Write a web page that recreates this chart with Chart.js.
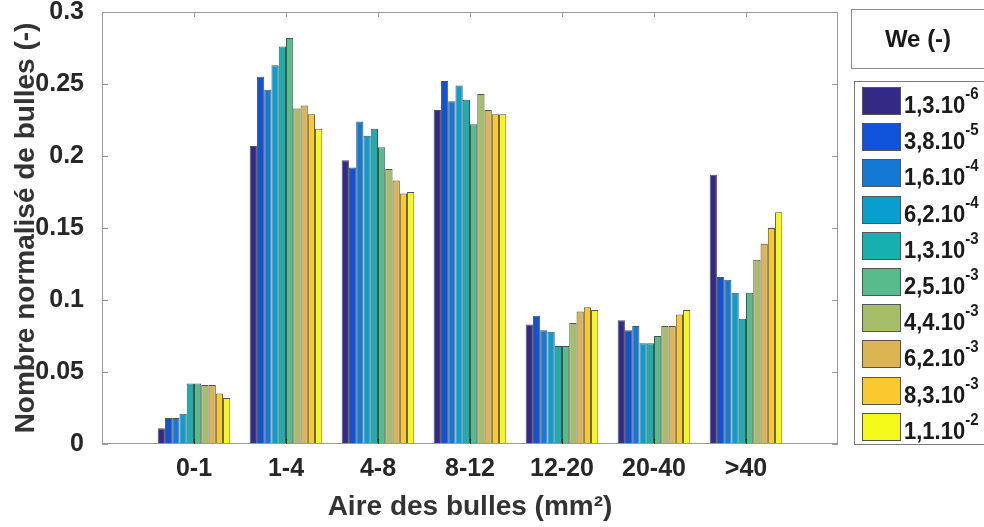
<!DOCTYPE html>
<html>
<head>
<meta charset="utf-8">
<script src="https://cdn.jsdelivr.net/npm/chart.js@4/dist/chart.umd.min.js"></script>
<style>
  body { margin: 0; background: #fff; font-family: "Liberation Sans", Arial, sans-serif; }
  #wrap { position: relative; width: 984px; height: 527px; overflow: hidden; }
  #legendTitle {
    position: absolute; left: 851px; top: 9px; width: 134px; height: 60px;
    border: 1px solid #8a8a8a; box-sizing: border-box;
    font-weight: bold; font-size: 24px; color: #1a1a1a;
    display: flex; align-items: center; justify-content: center;
  }
  #legendBox {
    position: absolute; left: 854px; top: 81px; width: 140px; height: 364px;
    border: 1px solid #7a7a7a; box-sizing: border-box;
  }
  .item { position: absolute; left: 7px; height: 28px; }
  .swatch { position: absolute; left: 0; top: 0; width: 39px; height: 28px; border: 1px solid #555; box-sizing: border-box; }
  .txt { position: absolute; left: 42px; top: 5px; font-weight: bold; font-size: 22px; line-height: 24px; color: #1a1a1a; white-space: nowrap; transform: scaleY(1.12); transform-origin: left top; }
  .txt sup { font-size: 15px; position: relative; top: -7px; vertical-align: top; line-height: 15px; }
</style>
</head>
<body>
<div id="wrap">
  <canvas id="chart" width="984" height="527"></canvas>
  <div id="legendTitle">We (-)</div>
  <div id="legendBox"></div>
</div>
<script>
// Bubble area classes (mm2)
const categories = ['0-1', '1-4', '4-8', '8-12', '12-20', '20-40', '>40'];

// Weber numbers (mantissa.10^exponent)
const weLabels = ['1,3.10^-6', '3,8.10^-5', '1,6.10^-4', '6,2.10^-4', '1,3.10^-3',
                  '2,5.10^-3', '4,4.10^-3', '6,2.10^-3', '8,3.10^-3', '1,1.10^-2'];

const barColors = ['#322a85', '#1053db', '#1479d4', '#0a9dd0', '#17b0b0',
                   '#57bc8c', '#a6bd6a', '#dcb553', '#f9c92d', '#f5f91a'];

// Normalised bubble count, one row per We, one value per class
const we1  = [0.011, 0.207, 0.197, 0.232, 0.083, 0.086, 0.187];
const we2  = [0.018, 0.255, 0.192, 0.252, 0.089, 0.079, 0.116];
const we3  = [0.018, 0.246, 0.224, 0.238, 0.079, 0.082, 0.114];
const we4  = [0.021, 0.263, 0.214, 0.249, 0.078, 0.070, 0.105];
const we5  = [0.042, 0.276, 0.219, 0.239, 0.068, 0.070, 0.087];
const we6  = [0.042, 0.282, 0.206, 0.222, 0.068, 0.075, 0.105];
const we7  = [0.041, 0.233, 0.191, 0.243, 0.084, 0.082, 0.128];
const we8  = [0.041, 0.235, 0.183, 0.232, 0.092, 0.082, 0.139];
const we9  = [0.035, 0.229, 0.174, 0.229, 0.095, 0.090, 0.150];
const we10 = [0.032, 0.219, 0.175, 0.229, 0.093, 0.093, 0.161];
const seriesValues = [we1, we2, we3, we4, we5, we6, we7, we8, we9, we10];

const yTicks = [0, 0.05, 0.1, 0.15, 0.2, 0.25, 0.3];

// empty slot on each side, like the MATLAB axis running from 0 to n+1
const paddedLabels = [''].concat(categories, ['']);

const datasets = seriesValues.map((vals, i) => ({
  label: weLabels[i].replace('^', ''),
  data: [null].concat(vals, [null]),
  backgroundColor: barColors[i],
  borderColor: '#505050',
  borderWidth: 1,
  borderSkipped: false,
  barPercentage: 1.0,
  categoryPercentage: 0.79
}));

// Axis box and inward tick marks
const boxPlugin = {
  id: 'axisBox',
  afterDraw(chart) {
    const { ctx, chartArea: a, scales } = chart;
    ctx.save();
    ctx.strokeStyle = '#9a9a9a';
    ctx.lineWidth = 1;
    ctx.strokeRect(a.left + 0.5, a.top + 0.5, a.right - a.left - 1, a.bottom - a.top - 1);
    ctx.beginPath();
    yTicks.forEach(v => {
      const py = Math.round(scales.y.getPixelForValue(v)) + 0.5;
      ctx.moveTo(a.left, py); ctx.lineTo(a.left + 6, py);
      ctx.moveTo(a.right, py); ctx.lineTo(a.right - 6, py);
    });
    categories.forEach((c, i) => {
      const px = Math.round(scales.x.getPixelForValue(i + 1)) + 0.5;
      ctx.moveTo(px, a.top); ctx.lineTo(px, a.top + 5);
    });
    ctx.stroke();
    ctx.strokeStyle = '#222';
    ctx.beginPath();
    categories.forEach((c, i) => {
      const px = Math.round(scales.x.getPixelForValue(i + 1)) + 0.5;
      ctx.moveTo(px, a.bottom); ctx.lineTo(px, a.bottom - 5);
    });
    ctx.stroke();
    ctx.restore();
  }
};

new Chart(document.getElementById('chart'), {
  type: 'bar',
  data: { labels: paddedLabels, datasets: datasets },
  plugins: [boxPlugin],
  options: {
    responsive: false,
    animation: false,
    devicePixelRatio: 1,
    layout: { padding: { left: 0, right: 146, top: 0, bottom: 0 } },
    plugins: { legend: { display: false }, tooltip: { enabled: false } },
    scales: {
      x: {
        offset: false,
        grid: { display: false },
        border: { display: false },
        ticks: {
          autoSkip: false, maxRotation: 0, padding: 2,
          color: '#262626',
          font: { family: 'Liberation Sans', size: 25, weight: 'bold' }
        },
        title: {
          display: true,
          text: 'Aire des bulles (mm²)',
          color: '#333',
          font: { family: 'Liberation Sans', size: 28, weight: 'bold' },
          padding: { top: 0, bottom: 3 }
        },
        afterFit(scale) { scale.height = 83; scale.paddingLeft = 0; scale.paddingRight = 0; }
      },
      y: {
        min: 0, max: 0.3,
        grid: { display: false },
        border: { display: false },
        afterBuildTicks(scale) { scale.ticks = yTicks.map(v => ({ value: v })); },
        ticks: {
          padding: 10,
          color: '#262626',
          font: { family: 'Liberation Sans', size: 25, weight: 'bold' },
          callback: v => String(Number(v.toFixed(2)))
        },
        title: {
          display: true,
          text: 'Nombre normalisé de bulles (-)',
          color: '#333',
          font: { family: 'Liberation Sans', size: 28, weight: 'bold' },
          padding: { top: 9, bottom: 0 }
        },
        afterFit(scale) { scale.width = 102; scale.paddingTop = 12; scale.paddingBottom = 0; }
      }
    }
  }
});

// HTML legend with real superscripts
const legendBox = document.getElementById('legendBox');
weLabels.forEach((lab, i) => {
  const parts = lab.split('^');
  const item = document.createElement('div');
  item.className = 'item';
  item.style.top = (5 + i * 36.2) + 'px';
  const sw = document.createElement('div');
  sw.className = 'swatch';
  sw.style.background = barColors[i];
  const txt = document.createElement('div');
  txt.className = 'txt';
  txt.innerHTML = parts[0] + '<sup>' + parts[1] + '</sup>';
  item.appendChild(sw);
  item.appendChild(txt);
  legendBox.appendChild(item);
});
</script>
</body>
</html>
